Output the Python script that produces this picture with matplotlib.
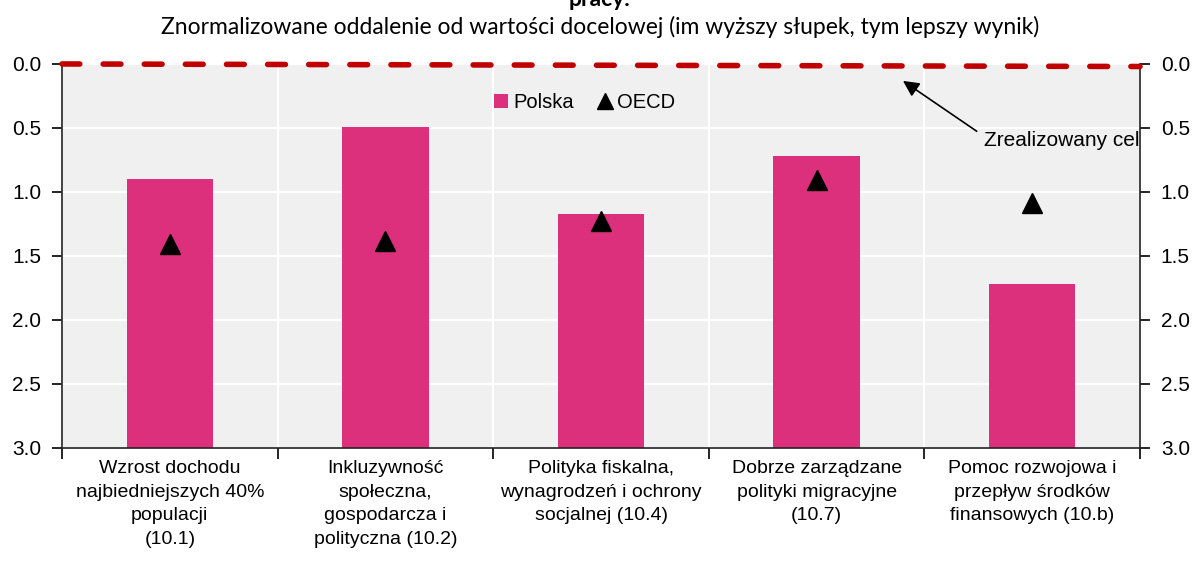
import matplotlib.pyplot as plt
import numpy as np

plt.rcParams['font.family'] = ['Liberation Sans', 'DejaVu Sans']

# data
categories = ['Wzrost dochodu\nnajbiedniejszych 40%\npopulacji\n(10.1)',
              'Inkluzywność\nspołeczna,\ngospodarcza i\npolityczna (10.2)',
              'Polityka fiskalna,\nwynagrodzeń i ochrony\nsocjalnej (10.4)',
              'Dobrze zarządzane\npolityki migracyjne\n(10.7)',
              'Pomoc rozwojowa i\nprzepływ środków\nfinansowych (10.b)']
polska = [0.90, 0.49, 1.17, 0.72, 1.72]
oecd = [1.41, 1.38, 1.23, 0.91, 1.09]
target_line = [0.0, 0.02]
y_ticks = [0.0, 0.5, 1.0, 1.5, 2.0, 2.5, 3.0]
y_max = 3.0

fig = plt.figure(figsize=(12, 5.72), dpi=100)
ax = fig.add_axes([0.0517, 0.2168, 0.8983, 0.6714])
ax.set_facecolor('#f0f0f0')

x = np.arange(len(categories))
# bars grow from the bottom (3.0) up to the value on the inverted axis
bars = ax.bar(x, [y_max - v for v in polska], 0.4, bottom=polska,
              color='#dc307c', label='Polska', zorder=2)
tri, = ax.plot(x, oecd, linestyle='none', marker='^', markersize=14,
               color='black', label='OECD', zorder=3)

ax.plot([-0.5, 4.5], target_line, color='#c00000', linewidth=4,
        dashes=(3.2, 4.2), dash_capstyle='round', clip_on=False, zorder=4)

ax.set_xlim(-0.5, 4.5)
ax.set_ylim(y_max, 0.0)

# grid
ax.set_yticks(y_ticks)
ax.set_yticklabels(['%.1f' % v for v in y_ticks])
ax.set_xticks(x)
ax.set_xticklabels(categories, linespacing=1.5)
ax.set_xticks(np.arange(-0.5, 4.6, 1), minor=True)
ax.grid(True, axis='y', color='white', linewidth=1.5, zorder=1)
ax.grid(True, axis='x', which='minor', color='white', linewidth=1.5, zorder=1)
ax.set_axisbelow(True)

ax.tick_params(axis='y', direction='out', length=7, width=1.2, labelsize=15,
               right=True, labelright=True, pad=8)
ax.tick_params(axis='x', which='major', length=0, labelsize=14, pad=9)
ax.tick_params(axis='x', which='minor', length=8, width=1.2, direction='out')

ax.spines['top'].set_visible(False)
for s in ['left', 'right', 'bottom']:
    ax.spines[s].set_linewidth(1.2)
    ax.spines[s].set_color('#222222')

ax.legend([bars, tri], ['Polska', 'OECD'], loc='center',
          bbox_to_anchor=(0.485, 0.9), ncol=2, frameon=False,
          fontsize=14.5, handlelength=0.7, handleheight=0.7,
          handletextpad=0.25, columnspacing=1.2, markerscale=0.85)

ax.annotate('Zrealizowany cel', xy=(3.39, 0.12), xytext=(4.5, 0.6),
            ha='right', va='center', fontsize=15,
            arrowprops=dict(arrowstyle='-|>', color='black', lw=1.2,
                            mutation_scale=24, shrinkA=0,
                            relpos=(-0.05, 1.0)))

fig.text(0.5, 0.953, 'Znormalizowane oddalenie od wartości docelowej (im wyższy słupek, tym lepszy wynik)',
         ha='center', va='center', fontsize=16.5, family=['Lato', 'DejaVu Sans'])
fig.text(0.5, 1.0, 'pracy.', ha='center', va='center', fontsize=16.5,
         fontweight='bold', family=['Lato', 'DejaVu Sans'])

plt.savefig('out.png', dpi=100)
